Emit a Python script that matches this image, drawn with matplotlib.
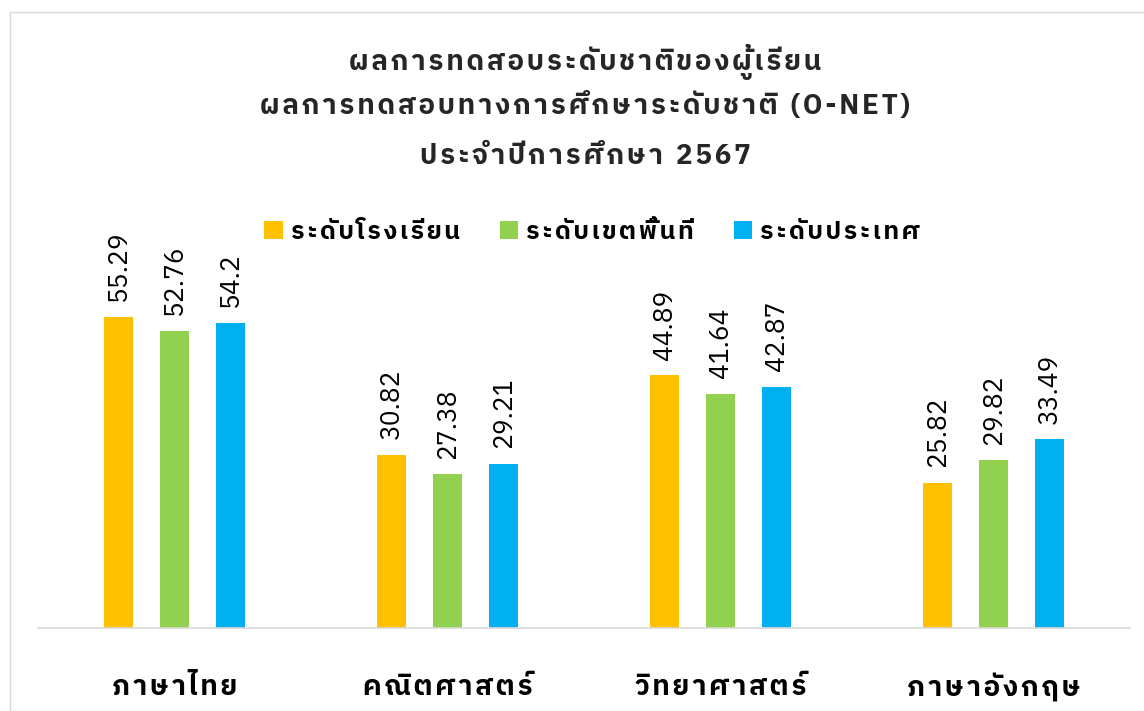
import matplotlib

matplotlib.use("Agg")
import matplotlib.pyplot as plt
import numpy as np
from matplotlib.patches import Rectangle

plt.rcParams["font.family"] = ["IBM Plex Sans Thai", "DejaVu Sans"]

subjects = ["ภาษาไทย", "คณิตศาสตร์", "วิทยาศาสตร์", "ภาษาอังกฤษ"]
series_names = ["ระดับโรงเรียน", "ระดับเขตพื้นที่", "ระดับประเทศ"]
school = [55.29, 30.82, 44.89, 25.82]
district = [52.76, 27.38, 41.64, 29.82]
national = [54.2, 29.21, 42.87, 33.49]
value_labels = [
    ["55.29", "30.82", "44.89", "25.82"],
    ["52.76", "27.38", "41.64", "29.82"],
    ["54.2", "29.21", "42.87", "33.49"],
]
title_lines = [
    "ผลการทดสอบระดับชาติของผู้เรียน",
    "ผลการทดสอบทางการศึกษาระดับชาติ (O-NET)",
    "ประจำปีการศึกษา 2567",
]
colors = ["#FFC000", "#92D050", "#00B0F0"]

# Thai marks that sit on the previous letter and take no width of their own
_MARKS = {0x0E31} | set(range(0x0E34, 0x0E3B)) | set(range(0x0E47, 0x0E4F))


def spaced(text, gap="\u200a"):
    """Insert a hair space between letters to mimic the reference tracking."""
    out = ""
    for i, ch in enumerate(text):
        if ch == " ":
            out += "  "
            continue
        if i > 0 and ord(ch) not in _MARKS and text[i - 1] != " ":
            out += gap
        out += ch
    return out


fig = plt.figure(figsize=(11.44, 7.11), dpi=100)
fig.patches.append(
    Rectangle((10 / 1144, 0), 1.2, 1 - 12 / 711, transform=fig.transFigure,
              fill=False, edgecolor="#D9D9D9", linewidth=1.0)
)

ax = fig.add_axes([38 / 1144, 1 - 628 / 711, 1092 / 1144, (628 - 234) / 711])
x = np.arange(len(subjects))
width = 0.106
pitch = 0.205
for i, (vals, color) in enumerate(zip([school, district, national], colors)):
    pos = x + (i - 1) * pitch
    ax.bar(pos, vals, width=width, color=color, label=spaced(series_names[i]))
    for p, v, lab in zip(pos, vals, value_labels[i]):
        ax.annotate(lab, (p, v), xytext=(0, 11), textcoords="offset points",
                    rotation=90, ha="center", va="bottom", fontsize=19)

ax.set_xlim(-0.5, len(subjects) - 0.5)
ax.set_ylim(0, 70)
ax.set_yticks([])
ax.set_xticks(x)
ax.set_xticklabels([spaced(s) for s in subjects], fontsize=20, fontweight="bold")
ax.tick_params(axis="x", length=0, pad=33)
for side in ["top", "left", "right"]:
    ax.spines[side].set_visible(False)
ax.spines["bottom"].set_color("#D9D9D9")
ax.spines["bottom"].set_linewidth(1.2)

for line, y in zip(title_lines, [62, 106, 157]):
    fig.text(585 / 1144, 1 - y / 711, spaced(line), ha="center", va="center",
             fontsize=20, fontweight="bold", color="#262626")

ax.legend(loc="center", bbox_to_anchor=(592 / 1144, 1 - 232 / 711),
          bbox_transform=fig.transFigure, ncol=3, frameon=False,
          prop={"size": 18, "weight": "bold"}, handlelength=0.75,
          handleheight=0.75, columnspacing=1.6, handletextpad=0.3)

fig.savefig("out.png", dpi=100)
plt.close(fig)
